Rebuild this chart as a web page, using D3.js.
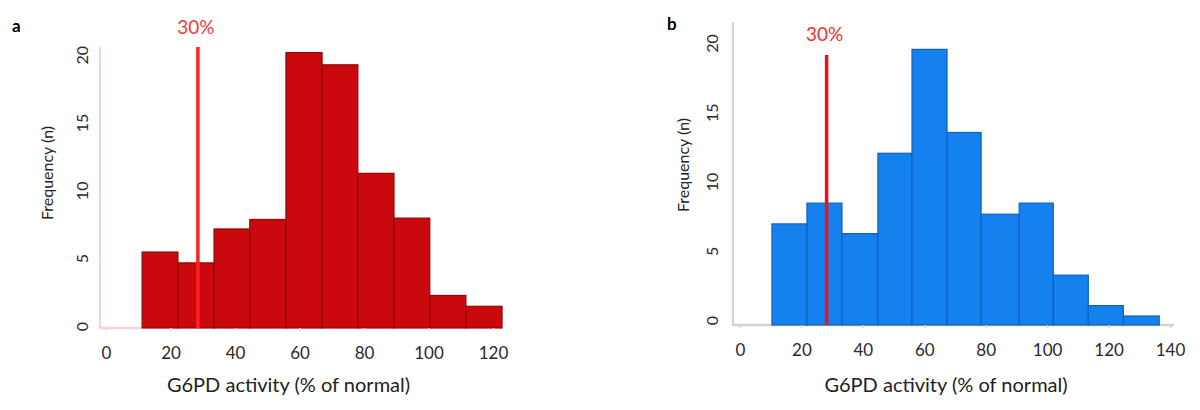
<!DOCTYPE html>
<html>
<head>
<meta charset="utf-8">
<script src="https://cdn.jsdelivr.net/npm/d3@7"></script>
<style>
  html, body { margin: 0; padding: 0; background: #fff; }
  svg { display: block; font-family: Lato, "Open Sans", sans-serif; }
</style>
</head>
<body>
<svg id="chart" width="1200" height="410"></svg>
<script>
// ---- data ----
const panelLabels = ["a", "b"];
const xTitle = "G6PD activity (% of normal)";
const yTitle = "Frequency (n)";
const thresholdLabel = "30%";

const binEdgesA = [11.2, 22.3, 33.5, 44.6, 55.8, 67.0, 78.1, 89.3, 100.4, 111.6, 122.8];
const countsA   = [5.6, 4.8, 7.3, 8.0, 20.3, 19.4, 11.4, 8.1, 2.4, 1.6];
const xTicksA   = [0, 20, 40, 60, 80, 100, 120];
const thresholdA = 28.5;

const binEdgesB = [10.4, 21.8, 33.2, 44.9, 56.0, 67.4, 78.5, 90.9, 102.0, 113.4, 124.8, 136.5];
const countsB   = [7.3, 8.8, 6.6, 12.4, 19.9, 13.9, 8.0, 8.8, 3.6, 1.4, 0.65];
const xTicksB   = [0, 20, 40, 60, 80, 100, 120, 140];
const thresholdB = 28.2;

const yTicks = [0, 5, 10, 15, 20];

// ---- panel layouts ----
const panels = [
  { label: panelLabels[0], labelPos: [12, 32], edges: binEdgesA, counts: countsA, xTicks: xTicksA,
    xDomain: [0, 120], xRange: [106, 493], yRange: [328, 56.7], threshold: thresholdA,
    axisX: 100, axisTop: 47, lineTop: 47, thrLabelY: 34, yLabelDx: -18, yTitleX: 47, yTitleY: 173,
    fill: "#c9090d", stroke: "#8e0608", thrColor: "#ff2020", thrText: "#f23a3a",
    axisColor: "#ecd6d8", baseEnd: null, yLabelDy: -2, titleShift: -11 },
  { label: panelLabels[1], labelPos: [667, 30], edges: binEdgesB, counts: countsB, xTicks: xTicksB,
    xDomain: [0, 140], xRange: [740, 1170], yRange: [325, 48], threshold: thresholdB,
    axisX: 733, axisTop: 22, lineTop: 55, thrLabelY: 41, yLabelDx: -21, yTitleX: 683, yTitleY: 165,
    fill: "#1581ee", stroke: "#0e63bd", thrColor: "#e8141b", thrText: "#f03030",
    axisColor: "#d2d2d2", baseEnd: 1174, yLabelDy: -5, titleShift: -9 }
];

const svg = d3.select("#chart");

panels.forEach(p => {
  const x = d3.scaleLinear().domain(p.xDomain).range(p.xRange);
  const y = d3.scaleLinear().domain([0, 20]).range(p.yRange);
  const g = svg.append("g");
  const base = y(0);

  // panel letter
  g.append("text").attr("x", p.labelPos[0]).attr("y", p.labelPos[1])
    .attr("font-size", 17).attr("font-weight", "bold").attr("fill", "#000")
    .text(p.label);

  // axis lines
  const baseEnd = p.baseEnd != null ? p.baseEnd : x(p.edges[0]);
  g.append("line").attr("x1", p.axisX).attr("x2", baseEnd)
    .attr("y1", base).attr("y2", base)
    .attr("stroke", p.axisColor).attr("stroke-width", 2.5);
  g.append("line").attr("x1", p.axisX).attr("x2", p.axisX)
    .attr("y1", p.axisTop).attr("y2", base + 1)
    .attr("stroke", p.axisColor).attr("stroke-width", 2);

  // bars
  const bins = p.counts.map((c, i) => ({ x0: p.edges[i], x1: p.edges[i + 1], c }));
  g.selectAll("rect.bar").data(bins).join("rect")
    .attr("class", "bar")
    .attr("x", d => x(d.x0))
    .attr("width", d => x(d.x1) - x(d.x0))
    .attr("y", d => y(Math.max(d.c, 0)))
    .attr("height", d => base - y(Math.max(d.c, 0)))
    .attr("fill", p.fill)
    .attr("stroke", p.stroke)
    .attr("stroke-width", 1.2);

  // x axis ticks & labels
  const xAxis = d3.axisBottom(x).tickValues(p.xTicks).tickSize(3).tickPadding(16);
  const gx = g.append("g").attr("transform", `translate(0,${base})`).call(xAxis);
  gx.select(".domain").remove();
  gx.selectAll(".tick line").attr("stroke", p.axisColor).attr("stroke-width", 1.5);
  gx.selectAll(".tick text").attr("font-size", 17).attr("fill", "#2a2a2a")
    .attr("font-family", "Lato, 'Open Sans', sans-serif");

  // y axis labels (rotated)
  const yAxis = d3.axisLeft(y).tickValues(yTicks).tickSize(0);
  const gy = g.append("g").attr("transform", `translate(${p.axisX},0)`).call(yAxis);
  gy.select(".domain").remove();
  gy.selectAll(".tick text")
    .attr("x", 0).attr("dy", "0.35em")
    .attr("text-anchor", "middle")
    .attr("transform", `translate(${p.yLabelDx},${p.yLabelDy}) rotate(-90)`)
    .attr("font-size", 16).attr("fill", "#2a2a2a")
    .attr("font-family", "Lato, 'Open Sans', sans-serif");

  // threshold line + label
  g.append("line")
    .attr("x1", x(p.threshold)).attr("x2", x(p.threshold))
    .attr("y1", p.lineTop).attr("y2", base)
    .attr("stroke", p.thrColor).attr("stroke-width", 3.5);
  g.append("text").attr("x", x(p.threshold) - 2).attr("y", p.thrLabelY)
    .attr("text-anchor", "middle").attr("font-size", 19).attr("fill", p.thrText)
    .text(thresholdLabel);

  // titles
  const xMid = (p.xRange[0] + p.xRange[1]) / 2 + p.titleShift;
  g.append("text").attr("x", xMid).attr("y", 392)
    .attr("text-anchor", "middle").attr("font-size", 20).attr("fill", "#222")
    .text(xTitle);
  g.append("text")
    .attr("transform", `translate(${p.yTitleX},${p.yTitleY}) rotate(-90)`)
    .attr("dy", "0.35em")
    .attr("text-anchor", "middle").attr("font-size", 16).attr("fill", "#222")
    .text(yTitle);
});
</script>
</body>
</html>
